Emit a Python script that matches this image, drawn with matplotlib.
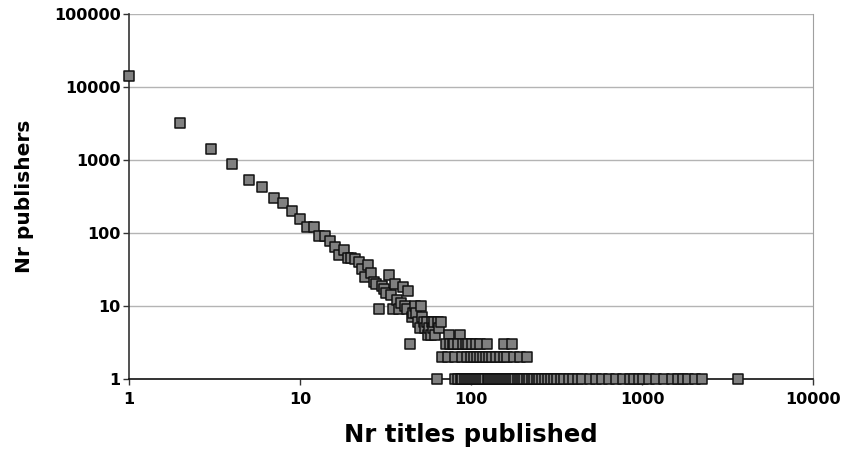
import matplotlib
matplotlib.use("Agg")
import matplotlib.pyplot as plt
from matplotlib.ticker import FixedLocator, FixedFormatter, NullLocator

plt.rcParams["font.family"] = ["DejaVu Sans"]

# number of titles a publisher has -> number of publishers with that many titles
head_titles = [1, 2, 3, 4, 5, 6, 7, 8, 9, 10, 11, 12, 13, 14, 15, 16, 17, 18, 19, 20,
               21, 22, 23, 24, 25, 26, 27, 28, 29, 30, 31, 32, 33, 34, 35, 36, 37, 38,
               39, 40, 41, 42, 43, 44, 45, 46, 47, 48, 49, 50, 51, 52, 53, 54, 55, 56,
               57, 58, 59, 60, 61, 62, 64, 65, 67, 74, 86]
head_publishers = [14000, 3200, 1400, 880, 530, 430, 300, 255, 200, 157, 122, 122, 92, 90,
                   78, 65, 50, 58, 45, 45, 44, 40, 32, 25, 36, 28, 21, 20, 9, 19, 17, 15,
                   27, 14, 9, 20, 12, 9, 11, 18, 10, 9, 16, 3, 7, 8, 10, 8, 6, 5, 10, 7,
                   6, 5, 6, 4, 5, 4, 6, 5, 6, 4, 6, 5, 6, 4, 4]

three_titles = [71, 75, 78, 80, 84, 90, 93, 96, 101, 107, 113, 124, 156, 173]
two_titles = [68, 73, 81, 88, 95, 100, 104, 108, 113, 117, 122, 127, 132, 140, 147,
              155, 163, 178, 193, 212]
one_titles = [63, 81, 84, 87, 89, 92, 95, 97, 100, 103, 106, 109, 112, 115, 118, 121,
              125, 128, 131, 135, 139, 142, 146, 150, 154, 158, 163, 167, 172, 177, 182,
              188, 193, 199, 205, 212, 218, 226, 234, 242, 250, 260, 270, 281, 292, 305,
              320, 335, 350, 372, 395, 420, 444, 497, 540, 580, 640, 700, 774, 851, 900,
              960, 1020, 1100, 1200, 1350, 1500, 1625, 1737, 1850, 2050, 2244, 3640]

x_ticks = [1, 10, 100, 1000, 10000]
y_ticks = [1, 10, 100, 1000, 10000, 100000]

titles = head_titles + three_titles + two_titles + one_titles
publishers = (head_publishers + [3] * len(three_titles) + [2] * len(two_titles)
              + [1] * len(one_titles))

fig = plt.figure(figsize=(8.41, 4.49), dpi=100)
ax = fig.add_axes([129 / 841, 1 - 379 / 449, (813 - 129) / 841, (379 - 14) / 449])

ax.set_xscale("log")
ax.set_yscale("log")
ax.set_xlim(1, 10000)
ax.set_ylim(1, 100000)

for y in y_ticks[1:]:
    ax.axhline(y, color="#b4b4b4", lw=1, zorder=0)

ax.scatter(titles, publishers, marker="s", s=58, facecolor="#808080",
           edgecolor="#111111", linewidth=1.1, zorder=3, clip_on=False)

ax.xaxis.set_major_locator(FixedLocator(x_ticks))
ax.xaxis.set_major_formatter(FixedFormatter([str(v) for v in x_ticks]))
ax.yaxis.set_major_locator(FixedLocator(y_ticks))
ax.yaxis.set_major_formatter(FixedFormatter([str(v) for v in y_ticks]))
ax.xaxis.set_minor_locator(NullLocator())
ax.yaxis.set_minor_locator(NullLocator())

ax.tick_params(axis="both", direction="out", length=4, width=1, color="#333333",
               labelsize=11.5)
ax.tick_params(axis="y", pad=2)
ax.tick_params(axis="x", pad=5)
for lab in ax.get_xticklabels() + ax.get_yticklabels():
    lab.set_fontweight("bold")

ax.spines["top"].set_visible(False)
ax.spines["right"].set_color("#a0a0a0")
ax.spines["left"].set_color("#333333")
ax.spines["bottom"].set_color("#111111")
ax.spines["left"].set_linewidth(1.2)
ax.spines["bottom"].set_linewidth(1.2)

ax.set_xlabel("Nr titles published", fontsize=17.5, fontweight="bold", labelpad=12)
ax.set_ylabel("Nr publishers", fontsize=14.5, fontweight="bold", labelpad=14)

fig.savefig("out.png", dpi=100)
